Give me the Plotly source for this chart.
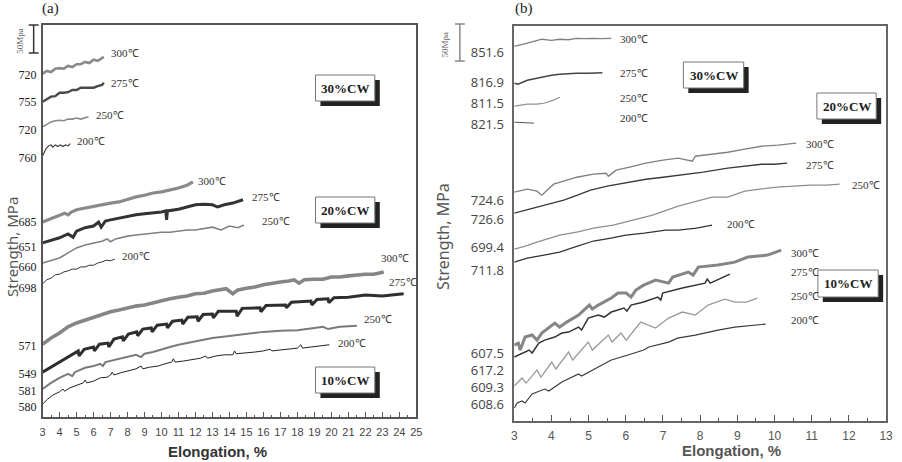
import plotly.graph_objects as go

# ---------------- data: panel (a) (elongation %, relative stress MPa, curves offset) -------------
A30_300_x = [3.0,3.25,3.5,3.75,4.0,4.25,4.5,4.75,5.0,5.25,5.5,5.75,6.0,6.25,6.5,6.6]
A30_300_y = [613,618,616,622,623,622,627,625,630,630,634,632,638,636,641,643]
A30_275_x = [3.0,3.25,3.5,3.75,4.0,4.25,4.5,4.75,5.0,5.25,5.5,5.75,6.0,6.25,6.5,6.6]
A30_275_y = [563,568,572,573,579,579,580,584,584,588,588,589,588,591,593,597]
A30_250_x = [3.0,3.25,3.5,3.75,4.0,4.25,4.5,4.75,5.0,5.25,5.5,5.7]
A30_250_y = [518,523,527,529,530,529,532,532,534,532,534,536]
A30_200_x = [3.0,3.1,3.2,3.35,3.5,3.6,3.75,3.9,4.05,4.2,4.35,4.5,4.63]
A30_200_y = [466,473,479,484,486,482,486,483,486,483,486,484,488]

A20_300_x = [3.0,3.5,4.0,4.3,4.5,4.7,5.0,5.5,6.0,6.5,7.0,7.5,8.0,8.5,9.0,9.5,10.0,10.5,11.0,11.5,11.85]
A20_300_y = [348,354,359,364,361,366,370,373,377,379,382,384,389,393,396,400,402,405,409,414,420]
A20_275_x = [3.0,3.5,4.0,4.5,4.8,5.0,5.5,6.0,6.3,6.45,6.7,7.0,7.5,8.0,8.5,9.0,9.5,10.0,10.25,10.3,
             10.35,11.0,11.5,12.0,12.5,13.0,13.3,13.7,14.2,14.8]
A20_275_y = [311,316,320,327,321,332,338,341,348,339,350,352,355,359,361,363,364,366,368,352,
             368,371,375,379,380,379,375,379,382,388]
A20_250_x = [3.0,3.5,4.0,4.5,5.0,5.5,6.0,6.5,6.8,7.0,7.3,8.0,8.5,9.0,9.5,10.0,10.5,11.0,11.5,12.0,
             12.5,13.0,13.5,14.0,14.5,14.85]
A20_250_y = [275,279,284,293,302,307,311,314,318,313,318,323,325,327,329,330,330,332,334,334,
             336,339,334,341,338,343]
A20_200_x = [3.0,3.25,3.5,3.75,4.0,4.25,4.5,4.75,5.0,5.25,5.5,5.75,6.0,6.25,6.5,6.75,7.0,7.25]
A20_200_y = [238,245,248,254,255,259,261,264,264,268,268,271,271,275,277,280,279,282]

A10_300_x = [3.0,3.5,4.0,4.5,5.0,5.5,6.0,6.5,7.0,7.5,8.0,8.5,9.0,9.5,10.0,10.5,11.0,11.5,12.0,12.5,
             13.0,13.5,13.8,14.2,14.5,15.0,15.5,16.0,16.5,17.0,17.5,17.8,18.1,18.4,19.0,19.5,20.0,
             20.5,21.0,21.5,22.0,22.5,23.08]
A10_300_y = [130,141,150,161,168,173,179,184,188,191,195,198,200,204,207,211,214,216,220,221,
             225,227,229,220,227,230,232,236,239,241,243,245,239,245,246,246,250,
             250,252,254,255,255,259]
A10_275_x = [3.0,3.5,4.0,4.5,5.1,5.15,5.45,6.0,6.05,6.35,6.85,6.9,7.2,7.7,7.75,8.05,8.55,8.6,8.9,
             9.4,9.45,9.75,10.3,10.35,10.65,11.2,11.25,11.55,12.1,12.15,12.45,13.0,13.05,13.35,
             14.4,14.45,14.75,15.8,15.85,16.15,17.3,17.35,17.65,18.8,18.85,19.15,19.8,19.85,20.15,
             21.0,22.0,23.0,24.25]
A10_275_y = [80,89,98,107,118,109,121,125,118,130,132,125,139,143,136,148,152,145,157,
             159,152,164,166,159,171,173,166,178,179,171,183,184,177,189,
             189,180,194,195,188,199,200,195,205,207,200,210,211,204,213,
             214,218,216,220]
A10_250_x = [3.0,3.5,4.0,4.5,4.75,4.9,5.5,6.0,6.4,6.55,6.7,7.5,8.0,8.5,8.8,9.0,9.5,10.0,10.5,11.0,
             11.5,12.0,12.5,13.0,13.5,14.0,15.0,16.0,17.0,18.0,19.0,19.5,19.8,20.5,21.5]
A10_250_y = [50,61,70,77,73,80,88,91,95,91,98,104,107,111,107,113,116,121,125,129,
             132,136,138,141,143,145,148,152,154,155,159,161,157,161,163]
A10_200_x = [3.0,3.3,3.6,4.0,4.2,4.3,4.6,5.0,5.4,5.5,5.6,6.0,6.4,6.8,7.0,7.1,7.2,7.6,8.0,8.5,
             8.8,8.9,9.3,9.8,10.2,10.6,10.7,10.8,11.3,11.8,12.3,12.6,12.7,13.2,13.7,14.2,14.3,14.4,
             15.0,15.5,16.0,16.4,16.5,17.0,17.5,18.0,18.2,18.3,18.8,19.3,19.88]
A10_200_y = [23,32,39,45,50,46,52,57,61,66,61,64,70,71,75,80,75,79,82,86,
             91,86,89,91,95,98,104,98,100,102,105,109,105,109,111,111,118,113,
             114,116,118,121,118,120,121,123,129,123,125,127,129]

A_tick_pos = [611,563,513,463,348,304,268,230,127,77,46,18]
A_tick_text = ["720","755","720","760","685","651","660","698","571","549","581","580"]

# ---------------- data: panel (b) ----------------
B30_300_x = [3.0,3.15,3.35,3.55,3.74,4.0,4.22,4.45,4.68,4.9,5.13,5.35,5.61]
B30_300_y = [506.6,508,510.7,513.4,516.1,514.7,516.1,515.4,517.4,516.8,517.4,516.8,517.4]
B30_275_x = [3.0,3.1,3.35,3.6,3.8,4.0,4.22,4.45,4.68,5.0,5.37]
B30_275_y = [456.6,455.3,460.7,463.4,466.1,467.4,468.8,469.5,470.1,470.1,470.8]
B30_250_x = [3.0,3.35,3.6,3.8,4.05,4.22]
B30_250_y = [425.6,428.3,428.3,429.6,433.7,437.7]
B30_200_x = [3.0,3.2,3.53]
B30_200_y = [404.0,403.3,402.6]

B20_300_x = [3.0,3.35,3.61,3.74,4.06,4.4,4.68,5.13,5.47,5.53,5.74,6.1,6.54,7.0,7.41,7.79,7.87,
             8.3,8.74,9.2,9.65,10.1,10.58]
B20_300_y = [309.4,313.4,310.7,305.3,320.2,325.6,329.6,333.7,335.0,331.0,339.1,343.2,348.6,352.6,
             355.3,351.3,358.0,360.7,363.4,367.5,371.5,372.9,375.6]
B20_275_x = [3.0,3.2,3.53,3.98,4.33,4.7,5.05,5.5,5.93,6.54,7.0,7.41,8.08,8.74,9.2,9.65,10.0,10.34]
B20_275_y = [281.0,283.7,287.8,293.2,298.6,305.3,312.1,317.5,321.5,326.9,329.6,332.3,336.4,341.8,
             344.5,347.2,347.2,348.6]
B20_250_x = [3.0,3.3,3.61,3.9,4.22,4.68,5.13,5.66,6.19,6.72,7.41,7.9,8.32,8.74,9.2,9.6,10.07,10.5,
             10.98,11.4,11.75]
B20_250_y = [232.4,236.4,241.8,245.9,251.3,255.3,260.7,264.8,271.6,278.3,290.5,297.2,302.6,302.6,
             310.7,313.4,316.1,317.5,318.8,318.8,320.2]
B20_200_x = [3.0,3.35,3.8,4.22,4.7,5.13,5.6,6.0,6.5,7.07,7.41,7.9,8.32]
B20_200_y = [214.8,220.2,224.3,228.3,236.4,243.2,247.2,251.3,254.0,258.0,258.0,260.7,264.8]

B10_300_x = [3.0,3.11,3.16,3.29,3.48,3.61,3.74,3.93,4.09,4.22,4.41,4.73,4.89,5.02,5.10,5.26,5.61,
             5.79,6.01,6.14,6.27,6.48,6.80,7.15,7.26,7.68,7.81,7.95,8.48,8.93,9.28,9.81,10.18]
B10_300_y = [102.7,105.4,95.9,113.5,116.2,109.4,118.9,125.6,132.4,127.0,133.7,143.2,150.0,156.7,
             151.3,156.7,166.2,172.9,172.9,167.5,177.0,183.7,190.5,186.4,194.5,201.3,197.2,208.1,
             210.8,214.8,221.6,224.3,231.0]
B10_275_x = [3.0,3.21,3.40,3.48,3.66,3.82,4.09,4.28,4.46,4.73,4.81,4.99,5.26,5.42,5.61,5.95,6.03,
             6.14,6.48,6.86,6.94,6.99,7.52,8.13,8.19,8.27,8.74,8.80]
B10_275_y = [86.5,91.9,95.9,91.9,105.4,109.4,113.5,118.9,120.2,127.0,122.9,139.2,143.2,140.5,
             147.3,152.7,148.6,156.7,160.8,167.5,163.5,172.9,179.7,186.4,191.8,186.4,197.2,198.6]
B10_250_x = [3.0,3.21,3.32,3.61,3.72,4.01,4.12,4.46,4.57,4.99,5.10,5.53,5.63,5.87,6.01,6.40,6.80,
             7.15,7.52,7.87,8.21,8.66,8.93,9.25,9.54]
B10_250_y = [47.3,58.1,51.3,68.9,59.4,79.7,70.3,93.2,82.4,106.7,95.9,116.2,106.7,118.9,109.4,
             133.7,125.6,139.2,147.3,143.2,156.7,164.8,160.8,160.8,166.2]
B10_200_x = [3.0,3.08,3.21,3.29,3.48,3.82,3.93,4.28,4.73,4.81,5.26,5.61,6.06,6.48,6.62,7.15,7.39,
             7.87,8.48,8.93,9.76]
B10_200_y = [17.6,24.3,27.0,24.3,36.5,43.2,40.5,52.7,63.5,60.8,73.0,82.4,89.2,95.9,100.0,106.7,
             112.1,116.2,122.9,127.0,131.0]

B_tick_pos = [498.5,458.0,429.6,401.2,298.6,272.9,235.1,204.0,91.9,68.9,45.9,23.0]
B_tick_text = ["851.6","816.9","811.5","821.5","724.6","726.6","699.4","711.8",
               "607.5","617.2","609.3","608.6"]

TEMPS = ["300℃", "275℃", "250℃", "200℃"]
A_label_x = [6.90,6.90,6.03,4.92, 12.02,15.22,15.81,7.54, 22.79,23.26,21.80,20.29]
A_label_y = [650,596,539,493, 421,393,350,287, 284,241,175,132]
B_label_x = [5.79,5.79,5.79,5.79, 10.79,10.79,12.04,8.66, 10.39,10.39,10.39,10.39]
B_label_y = [516,470,436,409, 374,346,319,266, 227,201,169,136]
CW_labels = ["30%CW", "20%CW", "10%CW"]

# ---------------- figure ----------------
W, H = 902, 462
def fx(px): return px / W
def fy(py): return 1 - py / H

fig = go.Figure()

a_curves = [
    (A30_300_x, A30_300_y, "#8a8a8a", 2.6), (A30_275_x, A30_275_y, "#4a4a4a", 2.4),
    (A30_250_x, A30_250_y, "#8a8a8a", 1.6), (A30_200_x, A30_200_y, "#333333", 1.1),
    (A20_300_x, A20_300_y, "#8a8a8a", 3.2), (A20_275_x, A20_275_y, "#333333", 3.0),
    (A20_250_x, A20_250_y, "#808080", 1.6), (A20_200_x, A20_200_y, "#333333", 1.0),
    (A10_300_x, A10_300_y, "#858585", 3.6), (A10_275_x, A10_275_y, "#2e2e2e", 3.0),
    (A10_250_x, A10_250_y, "#7a7a7a", 2.0), (A10_200_x, A10_200_y, "#222222", 1.0),
]
for xs, ys, c, w in a_curves:
    fig.add_trace(go.Scatter(x=xs, y=ys, mode="lines", line=dict(color=c, width=w),
                             xaxis="x", yaxis="y", hoverinfo="skip", showlegend=False))

b_curves = [
    (B30_300_x, B30_300_y, "#808080", 1.3), (B30_275_x, B30_275_y, "#444444", 1.6),
    (B30_250_x, B30_250_y, "#909090", 1.2), (B30_200_x, B30_200_y, "#555555", 1.0),
    (B20_300_x, B20_300_y, "#808080", 1.4), (B20_275_x, B20_275_y, "#3a3a3a", 1.4),
    (B20_250_x, B20_250_y, "#8e8e8e", 1.2), (B20_200_x, B20_200_y, "#333333", 1.1),
    (B10_300_x, B10_300_y, "#858585", 3.0), (B10_275_x, B10_275_y, "#333333", 1.5),
    (B10_250_x, B10_250_y, "#9a9a9a", 1.3), (B10_200_x, B10_200_y, "#3a3a3a", 1.2),
]
for xs, ys, c, w in b_curves:
    fig.add_trace(go.Scatter(x=xs, y=ys, mode="lines", line=dict(color=c, width=w),
                             xaxis="x2", yaxis="y2", hoverinfo="skip", showlegend=False))

annotations = []
shapes = []

def paper_text(px, py, text, font, angle=0):
    return dict(x=fx(px), y=fy(py), xref="paper", yref="paper", text=text, showarrow=False,
                xanchor="center", yanchor="middle", textangle=angle, font=font)

# temperature labels
for i in range(12):
    annotations.append(dict(x=A_label_x[i], y=A_label_y[i], xref="x", yref="y", text=TEMPS[i % 4],
                            showarrow=False, xanchor="left", yanchor="middle",
                            font=dict(family="Liberation Serif", size=11, color="#333")))
    annotations.append(dict(x=B_label_x[i], y=B_label_y[i], xref="x2", yref="y2", text=TEMPS[i % 4],
                            showarrow=False, xanchor="left", yanchor="middle",
                            font=dict(family="Liberation Serif", size=11, color="#333")))

# CW boxes (left, top, right, bottom in pixels)
cw_boxes = [
    (316, 75, 376, 101), (316, 197, 376, 223), (316, 367, 376, 393),
    (688, 62, 749, 88), (823, 93, 883, 119), (824, 270, 885, 297),
]
for k, (l, t, r, b) in enumerate(cw_boxes):
    shapes.append(dict(type="rect", xref="paper", yref="paper", x0=fx(l + 5), x1=fx(r + 5),
                       y0=fy(b + 5), y1=fy(t + 5), fillcolor="#222", line=dict(width=0)))
    shapes.append(dict(type="rect", xref="paper", yref="paper", x0=fx(l), x1=fx(r),
                       y0=fy(b), y1=fy(t), fillcolor="white", line=dict(color="#777", width=1)))
    annotations.append(paper_text((l + r) / 2, (t + b) / 2, "<b>%s</b>" % CW_labels[k % 3],
                                  dict(family="Liberation Serif", size=13, color="#222")))

# scale bars
for (bx, t, b, col, tx) in [(31, 25, 53, "#333", 17), (462, 24, 61, "#888", 446)]:
    shapes.append(dict(type="line", xref="paper", yref="paper", x0=fx(bx), x1=fx(bx),
                       y0=fy(t), y1=fy(b), line=dict(color=col, width=1.5)))
    for yy in (t, b):
        shapes.append(dict(type="line", xref="paper", yref="paper", x0=fx(bx - 5), x1=fx(bx + 5),
                           y0=fy(yy), y1=fy(yy), line=dict(color=col, width=1.5)))
    annotations.append(paper_text(tx, (t + b) / 2 + 2, "50Mpa",
                                  dict(family="Liberation Serif", size=9, color="#666"), -90))

# panel letters
annotations.append(paper_text(48, 9, "(a)", dict(family="Liberation Serif", size=15, color="#222")))
annotations.append(paper_text(527, 9, "(b)", dict(family="Liberation Serif", size=15, color="#222")))

# axis titles
annotations.append(paper_text(217, 451, "<b>Elongation, %</b>",
                              dict(family="Liberation Sans", size=15, color="#333")))
annotations.append(paper_text(737, 450, "<b>Elongation, %</b>",
                              dict(family="Liberation Sans", size=15, color="#555")))
annotations.append(paper_text(9, 247, "Strength, MPa",
                              dict(family="Noto Sans", size=15, color="#555"), -90))
annotations.append(paper_text(445, 237, "Strength, MPa",
                              dict(family="Noto Sans", size=16, color="#555"), -90))

axis_common = dict(showgrid=False, zeroline=False, showline=True, mirror=True)

fig.update_layout(
    width=W, height=H, margin=dict(l=0, r=0, t=0, b=0), autosize=False,
    paper_bgcolor="white", plot_bgcolor="white", showlegend=False,
    xaxis=dict(domain=[fx(40), fx(418)], range=[3, 25], anchor="y", tickmode="linear", tick0=3, dtick=1,
               ticks="inside", ticklen=5, tickcolor="#555", tickwidth=1,
               minor=dict(tick0=3, dtick=0.5, ticks="inside", ticklen=2, tickcolor="#555"),
               linecolor="#555", linewidth=1.5, ticklabelstandoff=4,
               tickfont=dict(family="Liberation Sans", size=11, color="#444"), **axis_common),
    yaxis=dict(domain=[fy(417), fy(25)], range=[0, 700], anchor="x", tickmode="array",
               tickvals=A_tick_pos, ticktext=A_tick_text, ticks="", linecolor="#555", linewidth=1.5,
               ticklabelstandoff=2,
               tickfont=dict(family="Liberation Serif", size=12, color="#222"), **axis_common),
    xaxis2=dict(domain=[fx(517), fx(893)], range=[3, 13], anchor="y2", tickmode="linear", tick0=3, dtick=1,
                ticks="inside", ticklen=6, tickcolor="#555", tickwidth=1,
                minor=dict(tick0=3, dtick=0.5, ticks="inside", ticklen=3, tickcolor="#555"),
                linecolor="#666", linewidth=1.5, ticklabelstandoff=3,
                tickfont=dict(family="Liberation Sans", size=12, color="#555"), **axis_common),
    yaxis2=dict(domain=[fy(421), fy(26)], range=[0, 534], anchor="x2", tickmode="array",
                tickvals=B_tick_pos, ticktext=B_tick_text, ticks="", linecolor="#666", linewidth=1.5,
                ticklabelstandoff=6,
                tickfont=dict(family="Open Sans", size=13, color="#444"), **axis_common),
    annotations=annotations, shapes=shapes,
)

fig.write_html("out.html")
